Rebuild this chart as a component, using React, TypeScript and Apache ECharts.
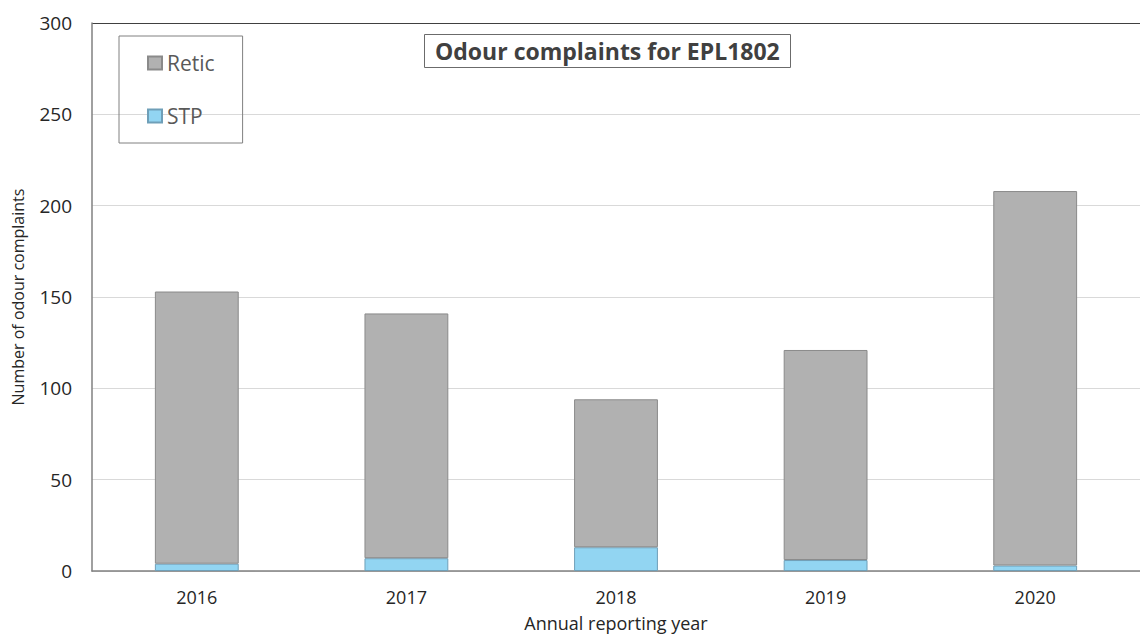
import React, { useEffect, useRef } from "react";
import * as echarts from "echarts";

const years = ["2016", "2017", "2018", "2019", "2020"];
const stp = [4, 7, 13, 6, 3];
const retic = [149, 134, 81, 115, 205];
const yTicks = { min: 0, max: 300, interval: 50 };

const FONT = "Open Sans";

export default function App() {
  const ref = useRef<HTMLDivElement>(null);
  useEffect(() => {
    const chart = echarts.init(ref.current!, null, { renderer: "svg" });
    chart.setOption({
      animation: false,
      backgroundColor: "#ffffff",
      textStyle: { fontFamily: FONT },
      title: {
        text: "Odour complaints for EPL1802",
        left: 424,
        top: 34,
        padding: [4, 11, 4, 11],
        borderColor: "#6b6b6b",
        borderWidth: 1,
        textStyle: { fontFamily: FONT, fontSize: 23, lineHeight: 26, fontWeight: "bold", color: "#404040" },
      },
      legend: {
        data: ["Retic", "STP"],
        orient: "vertical",
        left: 119,
        top: 36,
        padding: [15, 28, 15, 28],
        itemGap: 29,
        itemWidth: 14,
        itemHeight: 13,
        icon: "rect",
        borderColor: "#808080",
        borderWidth: 1,
        textStyle: { fontFamily: FONT, fontSize: 21, color: "#595959", lineHeight: 24 },
      },
      grid: { left: 92, right: -3, top: 23, bottom: 63, containLabel: false },
      xAxis: {
        type: "category",
        data: years,
        name: "Annual reporting year",
        nameLocation: "middle",
        nameGap: 43,
        nameTextStyle: { fontFamily: FONT, fontSize: 18, color: "#262626" },
        axisLine: { lineStyle: { color: "#808080", width: 1.5 } },
        axisTick: { show: false },
        axisLabel: { fontFamily: FONT, fontSize: 18, color: "#262626", margin: 17 },
      },
      yAxis: {
        type: "value",
        min: yTicks.min,
        max: yTicks.max,
        interval: yTicks.interval,
        name: "Number of odour complaints",
        nameLocation: "middle",
        nameGap: 66,
        nameTextStyle: { fontFamily: FONT, fontSize: 16, color: "#262626" },
        axisLine: { show: true, lineStyle: { color: "#808080", width: 1.5 } },
        axisTick: { show: false },
        axisLabel: { fontFamily: FONT, fontSize: 19, color: "#262626", margin: 20 },
        splitLine: {
          lineStyle: {
            color: ["#d9d9d9", "#d9d9d9", "#d9d9d9", "#d9d9d9", "#d9d9d9", "#d9d9d9", "#404040"],
            width: 1,
          },
        },
      },
      series: [
        {
          name: "STP",
          type: "bar",
          stack: "total",
          barWidth: "40%",
          data: stp,
          itemStyle: { color: "#92d5f2", borderColor: "#6f9fb8", borderWidth: 1 },
        },
        {
          name: "Retic",
          type: "bar",
          stack: "total",
          barWidth: "40%",
          data: retic,
          itemStyle: { color: "#b1b1b1", borderColor: "#8a8a8a", borderWidth: 1 },
        },
      ],
    });
    return () => chart.dispose();
  }, []);
  return (
    <div
      ref={ref}
      style={{ position: "fixed", left: 0, top: 0, width: 1140, height: 637 }}
    />
  );
}
